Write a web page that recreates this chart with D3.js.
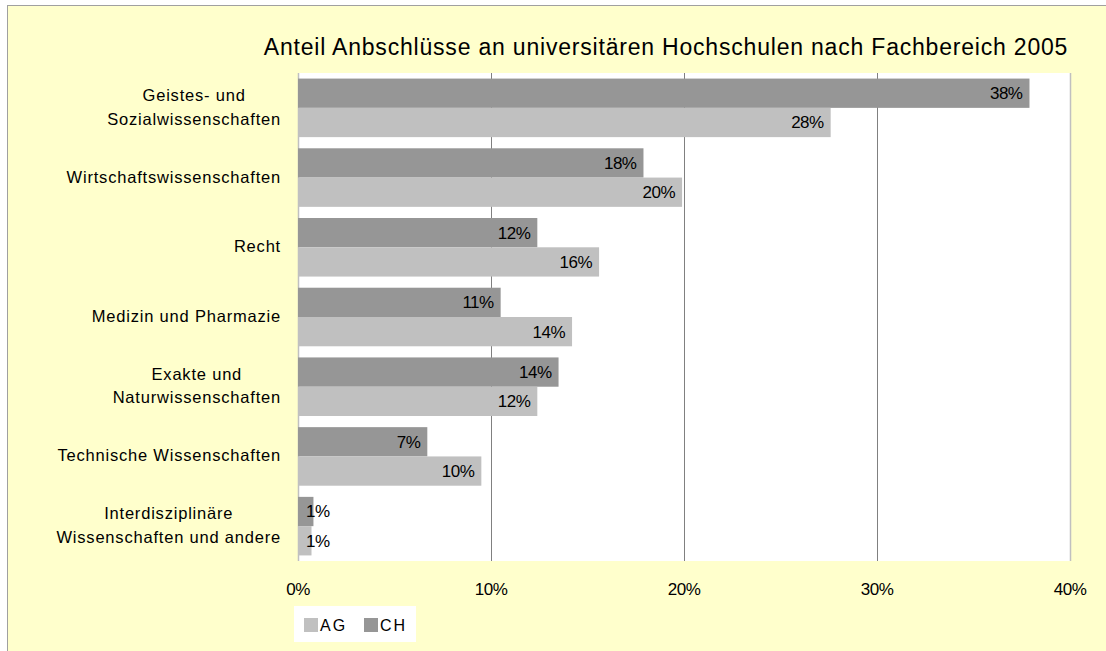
<!DOCTYPE html>
<html>
<head>
    <meta charset="UTF-8">
    <script src="https://d3js.org/d3.v7.min.js"></script>
    <title>Anteil Abschlüsse</title>
    <style type="text/css">
        body { margin: 0; background: #fff; }
        text { font-family: "Liberation Sans", Arial, sans-serif; fill: #000; }
    </style>
</head>
<body>
    <script type="text/javascript">
        // categories (lines of each label) and values in percent
        var categories = [
            ["Geistes- und", "Sozialwissenschaften"],
            ["Wirtschaftswissenschaften"],
            ["Recht"],
            ["Medizin und Pharmazie"],
            ["Exakte und", "Naturwissenschaften"],
            ["Technische Wissenschaften"],
            ["Interdisziplinäre", "Wissenschaften und andere"]
        ];
        var valuesCH = [37.9, 17.9, 12.4, 10.5, 13.5, 6.7, 0.8];
        var valuesAG = [27.6, 19.9, 15.6, 14.2, 12.4, 9.5, 0.7];
        var labelsCH = ["38%", "18%", "12%", "11%", "14%", "7%", "1%"];
        var labelsAG = ["28%", "20%", "16%", "14%", "12%", "10%", "1%"];
        var xTicks = [0, 10, 20, 30, 40];
        var series = ["CH", "AG"];
        var legendItems = ["AG", "CH"];
        var colors = { CH: "#969696", AG: "#c0c0c0" };

        var W = 1106, H = 651;
        var plot = { left: 298, right: 1070, top: 73, bottom: 561 };

        var svg = d3.select("body").append("svg")
            .attr("width", W)
            .attr("height", H);

        // chart area background and border
        svg.append("rect")
            .attr("x", 7.5).attr("y", 5.5)
            .attr("width", W).attr("height", H)
            .attr("fill", "#ffffcc")
            .attr("stroke", "#a0a0a0");

        // scales
        var x = d3.scaleLinear().domain([0, 40]).range([plot.left, plot.right]);
        var keys = categories.map(function (d) { return d.join(" "); });
        var y = d3.scaleBand().domain(keys)
            .range([plot.top, plot.bottom])
            .paddingInner(0.16).paddingOuter(0.08);
        var y1 = d3.scaleBand().domain(series).range([0, y.bandwidth()]);

        // plot area
        svg.append("rect")
            .attr("x", plot.left).attr("y", plot.top)
            .attr("width", plot.right - plot.left)
            .attr("height", plot.bottom - plot.top)
            .attr("fill", "#fff");

        // gridlines
        svg.append("g").selectAll("line")
            .data(xTicks.slice(1, -1))
            .join("line")
            .attr("x1", function (d) { return Math.round(x(d)) + 0.5; })
            .attr("x2", function (d) { return Math.round(x(d)) + 0.5; })
            .attr("y1", plot.top).attr("y2", plot.bottom)
            .attr("stroke", "#808080");

        // plot border left/right
        svg.append("g").selectAll("line")
            .data([0, 40])
            .join("line")
            .attr("x1", function (d) { return Math.round(x(d)) + 0.5; })
            .attr("x2", function (d) { return Math.round(x(d)) + 0.5; })
            .attr("y1", plot.top).attr("y2", plot.bottom)
            .attr("stroke", "#c0c0c0")
            .attr("stroke-width", 1.5);

        // bars
        var rows = categories.map(function (c, i) {
            return {
                key: keys[i],
                bars: [
                    { s: "CH", v: valuesCH[i], label: labelsCH[i] },
                    { s: "AG", v: valuesAG[i], label: labelsAG[i] }
                ]
            };
        });

        var groups = svg.append("g").selectAll("g")
            .data(rows)
            .join("g")
            .attr("transform", function (d) { return "translate(0," + y(d.key) + ")"; });

        groups.selectAll("rect")
            .data(function (d) { return d.bars; })
            .join("rect")
            .attr("x", x(0))
            .attr("y", function (d) { return y1(d.s); })
            .attr("width", function (d) { return x(d.v) - x(0); })
            .attr("height", y1.bandwidth())
            .attr("fill", function (d) { return colors[d.s]; });

        groups.selectAll("text")
            .data(function (d) { return d.bars; })
            .join("text")
            .attr("x", function (d) {
                return x(d.v) - x(0) < 40 ? x(0) + 8 : x(d.v) - 7;
            })
            .attr("y", function (d) { return y1(d.s) + y1.bandwidth() / 2 + 6; })
            .attr("text-anchor", function (d) { return x(d.v) - x(0) < 40 ? "start" : "end"; })
            .style("font-size", "17px")
            .style("letter-spacing", "-0.5px")
            .text(function (d) { return d.label; });

        // category labels, each block right aligned, lines centred
        var catG = svg.append("g").selectAll("text")
            .data(categories)
            .join("text")
            .style("font-size", "16.5px")
            .style("letter-spacing", "0.8px");

        catG.each(function (d, i) {
            var t = d3.select(this);
            var cy = y(keys[i]) + y.bandwidth() / 2 + 5;
            t.selectAll("tspan")
                .data(d)
                .join("tspan")
                .attr("y", function (l, j) { return cy + (j - (d.length - 1) / 2) * 23.5; })
                .text(function (l) { return l; });
            var widths = [];
            t.selectAll("tspan").each(function () { widths.push(this.getComputedTextLength()); });
            var centre = 281 - d3.max(widths) / 2;
            t.selectAll("tspan")
                .attr("x", centre)
                .attr("text-anchor", "middle");
        });

        // x tick labels
        svg.append("g").selectAll("text")
            .data(xTicks)
            .join("text")
            .attr("x", function (d) { return x(d); })
            .attr("y", 595)
            .attr("text-anchor", "middle")
            .style("font-size", "17px")
            .style("letter-spacing", "-0.5px")
            .text(function (d) { return d + "%"; });

        // title
        svg.append("text")
            .attr("x", 666)
            .attr("y", 55)
            .attr("text-anchor", "middle")
            .style("font-size", "23px")
            .style("letter-spacing", "0.8px")
            .text("Anteil Anbschlüsse an universitären Hochschulen nach Fachbereich 2005");

        // legend
        var legend = svg.append("g").attr("transform", "translate(294,606)");
        legend.append("rect")
            .attr("width", 122).attr("height", 36)
            .attr("fill", "#fff");
        var li = legend.selectAll("g")
            .data(legendItems)
            .join("g")
            .attr("transform", function (d, i) { return "translate(" + (10 + i * 60) + ",12)"; });
        li.append("rect")
            .attr("width", 14).attr("height", 14)
            .attr("fill", function (d) { return colors[d]; });
        li.append("text")
            .attr("x", 16).attr("y", 13)
            .style("font-size", "16px")
            .style("letter-spacing", "2px")
            .text(function (d) { return d; });
    </script>
</body>
</html>
